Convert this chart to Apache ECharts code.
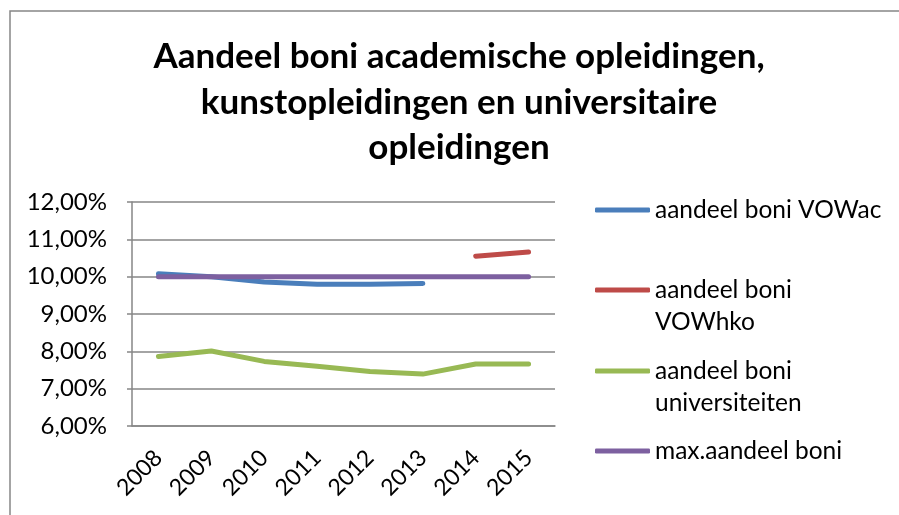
<!DOCTYPE html>
<html><head><meta charset="utf-8">
<script src="https://cdn.jsdelivr.net/npm/echarts@6/dist/echarts.min.js"></script>
<style>html,body{margin:0;padding:0;background:#fff}#c{width:899px;height:515px}</style>
</head><body><div id="c"></div>
<script>
const categories = ['2008','2009','2010','2011','2012','2013','2014','2015'];
const vowac = [10.08, 10.0, 9.86, 9.80, 9.80, 9.82, null, null];
const vowhko = [null, null, null, null, null, null, 10.55, 10.66];
const universiteiten = [7.86, 8.01, 7.73, 7.60, 7.46, 7.39, 7.66, 7.66];
const maxAandeel = [10, 10, 10, 10, 10, 10, 10, 10];
const seriesNames = ['aandeel boni VOWac','aandeel boni VOWhko','aandeel boni universiteiten','max.aandeel boni'];
const legendLines = [['aandeel boni VOWac'],['aandeel boni','VOWhko'],['aandeel boni','universiteiten'],['max.aandeel boni']];
const colors = ['#4A7EBB','#BE4B48','#98B954','#7D60A0'];
const FONT = 'Lato';
const LH = 32;
const iconY = [210, 290, 371, 451];

const chart = echarts.init(document.getElementById('c'));
const legends = seriesNames.map((n, i) => {
  const two = legendLines[i].length > 1;
  return {
    data: [n], orient: 'vertical', left: 595,
    top: two ? iconY[i] - 1.5 * LH : iconY[i] - LH / 2,
    padding: 0, itemWidth: 55, itemHeight: 5, icon: 'roundRect',
    selectedMode: false,
    formatter: () => (two ? '\n' : '') + legendLines[i].join('\n'),
    textStyle: { fontFamily: FONT, fontSize: 24.5, color: '#000', lineHeight: LH }
  };
});
const mk = (name, data, color) => ({
  name, type: 'line', data, symbol: 'none', connectNulls: false,
  lineStyle: { width: 5, color, cap: 'round', join: 'round' }, itemStyle: { color }
});
chart.setOption({
  animation: false,
  title: {
    text: 'Aandeel boni academische opleidingen,\nkunstopleidingen en universitaire\nopleidingen',
    left: 454, top: 29, textAlign: 'center',
    textStyle: { fontFamily: FONT, fontWeight: 'bold', fontSize: 35, lineHeight: 45.5, color: '#000' }
  },
  graphic: [{ type: 'polyline', shape: { points: [[10, 2000], [10, 11], [2000, 11]] }, style: { fill: 'none', stroke: '#868686', lineWidth: 1.5 }, silent: true }],
  legend: legends,
  grid: { left: 132, right: 344, top: 202, bottom: 89 },
  xAxis: {
    type: 'category', data: categories, boundaryGap: true,
    axisLine: { lineStyle: { color: '#868686', width: 1.5 } },
    axisTick: { show: false },
    axisLabel: { rotate: 45, margin: 28, fontFamily: FONT, fontSize: 23, color: '#000' }
  },
  yAxis: {
    type: 'value', min: 6, max: 12, interval: 1,
    axisLine: { show: true, lineStyle: { color: '#868686', width: 1.5 } },
    axisTick: { show: true, length: 5, lineStyle: { color: '#868686', width: 1.5 } },
    splitLine: { lineStyle: { color: '#868686', width: 1.5 } },
    axisLabel: { margin: 25, fontFamily: FONT, fontSize: 24, color: '#000', formatter: v => v.toFixed(2).replace('.', ',') + '%' }
  },
  series: [mk(seriesNames[0], vowac, colors[0]), mk(seriesNames[1], vowhko, colors[1]), mk(seriesNames[2], universiteiten, colors[2]), mk(seriesNames[3], maxAandeel, colors[3])]
});
</script></body></html>
